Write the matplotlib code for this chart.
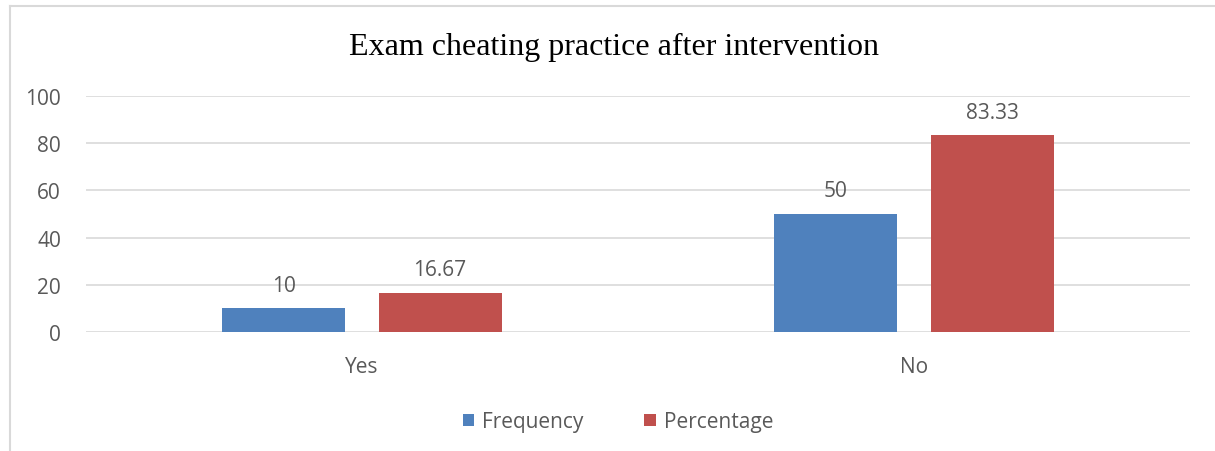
import matplotlib.pyplot as plt
import numpy as np
from matplotlib.lines import Line2D

categories = ["Yes", "No"]
frequency = [10, 50]
percentage = [16.67, 83.33]
freq_labels = ["10", "50"]
pct_labels = ["16.67", "83.33"]
yticks = [0, 20, 40, 60, 80, 100]

blue = "#4F81BD"
red = "#C0504D"
txt = "#595959"

fig = plt.figure(figsize=(12.15, 4.52), dpi=100)
ax = fig.add_axes([86 / 1215, 1 - 333 / 452, (1190 - 86) / 1215, (333 - 97) / 452])

x = np.arange(len(categories))
w = 0.223
off = w / 2 + 0.03
b1 = ax.bar(x - off, frequency, w, color=blue, label="Frequency", zorder=3)
b2 = ax.bar(x + off, percentage, w, color=red, label="Percentage", zorder=3)

ax.bar_label(b1, labels=freq_labels, padding=9, fontsize=15, color=txt, family="Open Sans")
ax.bar_label(b2, labels=pct_labels, padding=9, fontsize=15, color=txt, family="Open Sans")

ax.set_xlim(-0.5, 1.5)
ax.set_ylim(0, 100)
ax.set_yticks(yticks)
ax.set_xticks(x)
ax.set_xticklabels(categories)
ax.yaxis.grid(True, color="#D9D9D9", linewidth=1.2, zorder=0)
for s in ax.spines.values():
    s.set_visible(False)
ax.tick_params(length=0, labelsize=15, labelcolor=txt)
ax.tick_params(axis="y", pad=18)
ax.tick_params(axis="x", pad=17)
for lab in ax.get_xticklabels() + ax.get_yticklabels():
    lab.set_family("Open Sans")

fig.text(614 / 1215, 1 - 47 / 452, "Exam cheating practice after intervention",
         ha="center", va="center", fontsize=23, family="Liberation Serif", color="black")

leg = fig.legend(handles=[b1, b2], loc="center", bbox_to_anchor=(618 / 1215, 1 - 423 / 452),
                 ncol=2, frameon=False, fontsize=15, handlelength=0.55, handleheight=0.55,
                 columnspacing=2.9, handletextpad=0.4)
for t in leg.get_texts():
    t.set_color(txt)
    t.set_family("Open Sans")

# chart border
fig.add_artist(Line2D([10 / 1215, 10 / 1215], [0, 1 - 7 / 452], transform=fig.transFigure,
                      color="#D9D9D9", linewidth=1.5))
fig.add_artist(Line2D([10 / 1215, 1], [1 - 7 / 452, 1 - 7 / 452], transform=fig.transFigure,
                      color="#D9D9D9", linewidth=1.5))

fig.savefig("out.png", dpi=100)
